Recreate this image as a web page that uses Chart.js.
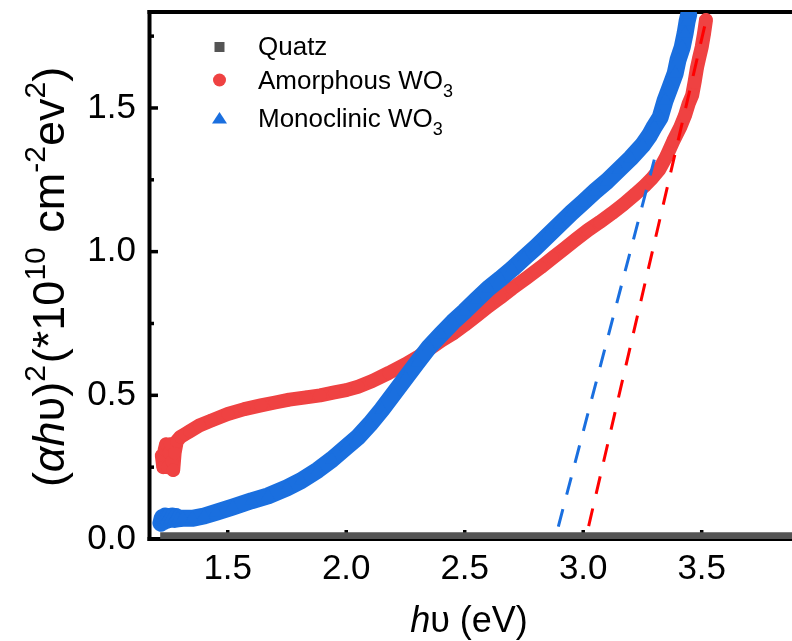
<!DOCTYPE html>
<html>
<head>
<meta charset="utf-8">
<script src="https://cdn.jsdelivr.net/npm/chart.js@4.4.1/dist/chart.umd.min.js"></script>
<style>
  html, body { margin: 0; padding: 0; background: #fff; }
  canvas { display: block; }
</style>
</head>
<body>
<canvas id="tauc" width="792" height="641"></canvas>
<script>
// values (photon energy in eV, (αhυ)² in 1e10 units)
const quatzX = [1.215, 1.5, 2.0, 2.5, 3.0, 3.5, 3.9];
const quatzY = [0.01, 0.01, 0.01, 0.01, 0.01, 0.01, 0.01];

const amorphousX = [1.222, 1.228, 1.234, 1.240, 1.246, 1.252, 1.258, 1.264, 1.270, 1.276,
  1.285, 1.30, 1.32, 1.34, 1.38, 1.43, 1.50, 1.57, 1.64, 1.70,
  1.76, 1.83, 1.89, 1.95, 2.00, 2.05, 2.11, 2.18, 2.25, 2.30,
  2.34, 2.40, 2.45, 2.50, 2.55, 2.60, 2.65, 2.70, 2.76, 2.82,
  2.87, 2.92, 2.97, 3.02, 3.07, 3.12, 3.17, 3.22, 3.26, 3.29,
  3.32, 3.35, 3.38, 3.41, 3.43, 3.445, 3.46, 3.47, 3.48, 3.49,
  3.50, 3.51, 3.518];
const amorphousY = [0.29, 0.25, 0.31, 0.33, 0.25, 0.30, 0.33, 0.27, 0.24, 0.30,
  0.34, 0.355, 0.365, 0.375, 0.395, 0.412, 0.435, 0.452, 0.465, 0.475,
  0.485, 0.493, 0.50, 0.51, 0.518, 0.53, 0.55, 0.578, 0.608, 0.632,
  0.655, 0.69, 0.715, 0.745, 0.777, 0.81, 0.84, 0.872, 0.908, 0.945,
  0.978, 1.01, 1.043, 1.075, 1.103, 1.133, 1.165, 1.20, 1.23, 1.255,
  1.285, 1.33, 1.385, 1.434, 1.475, 1.515, 1.545, 1.59, 1.64, 1.677,
  1.712, 1.76, 1.806];

const monoclinicX = [1.218, 1.224, 1.230, 1.236, 1.242, 1.250, 1.258, 1.266, 1.274, 1.282,
  1.29, 1.31, 1.35, 1.40, 1.45, 1.52, 1.60, 1.67, 1.75, 1.81,
  1.88, 1.94, 2.00, 2.05, 2.10, 2.15, 2.20, 2.25, 2.30, 2.35,
  2.40, 2.45, 2.50, 2.55, 2.60, 2.65, 2.70, 2.75, 2.80, 2.85,
  2.90, 2.95, 3.00, 3.05, 3.10, 3.15, 3.20, 3.25, 3.28, 3.30,
  3.325, 3.346, 3.367, 3.388, 3.40, 3.418, 3.43, 3.438, 3.445];
const monoclinicY = [0.055, 0.075, 0.060, 0.080, 0.065, 0.078, 0.068, 0.080, 0.068, 0.078,
  0.070, 0.072, 0.072, 0.080, 0.093, 0.111, 0.133, 0.150, 0.178, 0.203,
  0.240, 0.277, 0.320, 0.355, 0.400, 0.450, 0.505, 0.560, 0.615, 0.668,
  0.712, 0.755, 0.793, 0.833, 0.872, 0.905, 0.940, 0.978, 1.015, 1.055,
  1.095, 1.135, 1.172, 1.21, 1.245, 1.285, 1.325, 1.37, 1.405, 1.435,
  1.468, 1.527, 1.573, 1.62, 1.667, 1.712, 1.76, 1.80, 1.825];

// linear extrapolations to the baseline
const fitMonoX = [2.895, 3.30];
const fitMonoY = [0.043, 1.32];
const fitAmorX = [3.023, 3.528];
const fitAmorY = [0.045, 1.84];

const xTicks = [1.5, 2.0, 2.5, 3.0, 3.5];
const xMinorTicks = [1.25, 1.75, 2.25, 2.75, 3.25, 3.75];
const yTicks = [0, 0.5, 1.0, 1.5];
const yMinorTicks = [0.25, 0.75, 1.25, 1.75];

const FONT = "'Liberation Sans', Arial, sans-serif";
const RED = '#ef4242';
const BLUE = '#1a6fdf';
const GRAY = '#545454';

const toPoints = (xs, ys) => xs.map((x, i) => ({ x, y: ys[i] }));

function drawRich(ctx, segs, x, y, rot, align) {
  ctx.save();
  ctx.translate(x, y);
  ctx.rotate(rot);
  ctx.textBaseline = 'alphabetic';
  ctx.textAlign = 'left';
  ctx.fillStyle = '#000';
  let total = 0;
  segs.forEach((s) => {
    ctx.font = `${s.italic ? 'italic ' : ''}${s.size}px ${FONT}`;
    s.w = ctx.measureText(s.t).width + (s.gap || 0);
    total += s.w;
  });
  let pos = align === 'left' ? 0 : -total / 2;
  segs.forEach((s) => {
    ctx.font = `${s.italic ? 'italic ' : ''}${s.size}px ${FONT}`;
    ctx.fillText(s.t, pos, s.dy || 0);
    pos += s.w;
  });
  ctx.restore();
}

// keep the plot box where the original has it (no auto label padding)
const noPadding = (scale) => {
  scale.paddingTop = 0;
  scale.paddingBottom = 0;
  scale.paddingLeft = 0;
  scale.paddingRight = 0;
};

const framePlugin = {
  id: 'frame',
  beforeDatasetsDraw(chart) {
    const { ctx, chartArea: a, scales } = chart;
    const x = scales.x;
    const y = scales.y;
    ctx.save();
    ctx.strokeStyle = '#000';
    ctx.lineCap = 'butt';
    const seg = (x1, y1, x2, y2) => {
      ctx.beginPath();
      ctx.moveTo(x1, y1);
      ctx.lineTo(x2, y2);
      ctx.stroke();
    };
    ctx.lineWidth = 3.5;
    xTicks.forEach((v) => { const p = x.getPixelForValue(v); seg(p, a.bottom, p, a.bottom - 9); });
    xMinorTicks.forEach((v) => { const p = x.getPixelForValue(v); seg(p, a.bottom, p, a.bottom - 5); });
    yTicks.forEach((v) => { const p = y.getPixelForValue(v); seg(a.left, p, a.left + 8, p); });
    yMinorTicks.forEach((v) => { const p = y.getPixelForValue(v); seg(a.left, p, a.left + 4, p); });
    ctx.lineWidth = 4;
    seg(a.left - 0.5, a.top - 2, a.left - 0.5, a.bottom + 2);
    seg(a.left - 2.5, a.top, a.right, a.top);
    seg(a.left - 2.5, a.bottom, a.right, a.bottom);
    ctx.restore();
  },
  afterDraw(chart) {
    const { ctx } = chart;
    // axis titles
    drawRich(ctx, [
      { t: 'h', size: 36, italic: true },
      { t: 'υ (eV)', size: 36 }
    ], 469, 632, 0);
    drawRich(ctx, [
      { t: '(', size: 45 },
      { t: 'αh', size: 45, italic: true },
      { t: 'υ)', size: 45 },
      { t: '2', size: 30, dy: -19, gap: 2 },
      { t: '(*10', size: 45 },
      { t: '10', size: 30, dy: -19, gap: 2 },
      { t: ' cm', size: 45 },
      { t: '-2', size: 30, dy: -19 },
      { t: 'ev', size: 45 },
      { t: '2', size: 30, dy: -19 },
      { t: ')', size: 45 }
    ], 64, 277, -Math.PI / 2);

    // legend
    const rows = [
      { label: 'Quatz', sub: '', color: GRAY, shape: 'rect', my: 47, by: 55 },
      { label: 'Amorphous WO', sub: '3', color: RED, shape: 'circle', my: 80, by: 89 },
      { label: 'Monoclinic WO', sub: '3', color: BLUE, shape: 'triangle', my: 118, by: 127 }
    ];
    ctx.save();
    rows.forEach((r) => {
      ctx.fillStyle = r.color;
      ctx.beginPath();
      if (r.shape === 'rect') {
        ctx.rect(214.5, r.my - 5, 10, 10);
      } else if (r.shape === 'circle') {
        ctx.arc(219.5, r.my, 6.5, 0, Math.PI * 2);
      } else {
        ctx.moveTo(219.5, r.my - 6);
        ctx.lineTo(227, r.my + 5.5);
        ctx.lineTo(212, r.my + 5.5);
        ctx.closePath();
      }
      ctx.fill();
      const segs = [{ t: r.label, size: 26 }];
      if (r.sub) segs.push({ t: r.sub, size: 18, dy: 8 });
      drawRich(ctx, segs, 258, r.by, 0, 'left');
    });
    ctx.restore();
  }
};

new Chart(document.getElementById('tauc'), {
  type: 'line',
  data: {
    datasets: [
      {
        label: 'fit amorphous',
        data: toPoints(fitAmorX, fitAmorY),
        borderColor: '#ff0000',
        borderWidth: 3,
        borderDash: [18, 15],
        pointRadius: 0,
        order: 0
      },
      {
        label: 'fit monoclinic',
        data: toPoints(fitMonoX, fitMonoY),
        borderColor: BLUE,
        borderWidth: 3,
        borderDash: [18, 15],
        pointRadius: 0,
        order: 1
      },
      {
        label: 'Quatz',
        data: toPoints(quatzX, quatzY),
        borderColor: GRAY,
        backgroundColor: GRAY,
        borderWidth: 8,
        borderCapStyle: 'butt',
        pointRadius: 0,
        order: 2
      },
      {
        label: 'Monoclinic WO3',
        data: toPoints(monoclinicX, monoclinicY),
        borderColor: BLUE,
        backgroundColor: BLUE,
        borderWidth: 17,
        borderJoinStyle: 'round',
        borderCapStyle: 'round',
        pointStyle: 'triangle',
        pointRadius: 8,
        pointBorderWidth: 0,
        order: 3
      },
      {
        label: 'Amorphous WO3',
        data: toPoints(amorphousX, amorphousY),
        borderColor: RED,
        backgroundColor: RED,
        borderWidth: 14,
        borderJoinStyle: 'round',
        borderCapStyle: 'round',
        pointStyle: 'circle',
        pointRadius: 6.5,
        pointBorderWidth: 0,
        order: 4
      }
    ]
  },
  options: {
    responsive: false,
    animation: false,
    devicePixelRatio: 1,
    layout: { autoPadding: false, padding: { top: 12, left: 0, right: 0, bottom: 0 } },
    plugins: { legend: { display: false }, tooltip: { enabled: false } },
    elements: { line: { tension: 0 } },
    scales: {
      x: {
        type: 'linear',
        min: 1.172,
        max: 3.881,
        afterBuildTicks: (scale) => { scale.ticks = xTicks.map((v) => ({ value: v })); },
        afterFit: (scale) => { scale.height = 102; noPadding(scale); },
        grid: { display: false, drawTicks: false },
        border: { display: false },
        ticks: {
          padding: 9,
          color: '#000',
          font: { family: FONT, size: 35 },
          maxRotation: 0,
          callback: (v) => Number(v).toFixed(1)
        }
      },
      y: {
        type: 'linear',
        min: 0,
        max: 1.834,
        afterBuildTicks: (scale) => { scale.ticks = yTicks.map((v) => ({ value: v })); },
        afterFit: (scale) => { scale.width = 150; noPadding(scale); },
        grid: { display: false, drawTicks: false },
        border: { display: false },
        ticks: {
          padding: 14,
          color: '#000',
          font: { family: FONT, size: 35 },
          callback: (v) => Number(v).toFixed(1)
        }
      }
    }
  },
  plugins: [framePlugin]
});
</script>
</body>
</html>
